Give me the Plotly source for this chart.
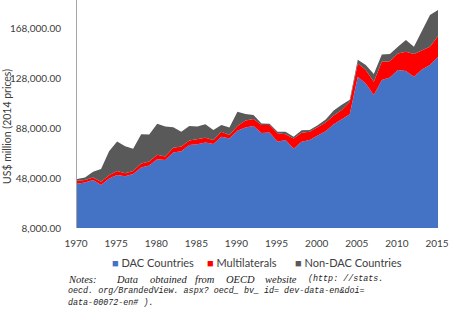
import plotly.graph_objects as go

years = list(range(1970, 2016))

dac = [43.5, 44.5, 46.5, 42.4, 47.7, 50.5, 49.4, 51.2, 56.5, 58.0,
       63.0, 62.4, 68.5, 69.5, 74.4, 75.0, 76.5, 75.2, 81.1, 79.7,
       85.9, 88.5, 89.6, 84.0, 84.5, 77.0, 78.4, 71.5, 77.1, 78.4,
       82.0, 85.5, 91.0, 95.0, 99.0, 129.0, 123.7, 114.4, 126.4, 128.5,
       134.4, 133.6, 129.1, 134.9, 138.4, 145.1]
multilaterals = [2.4, 1.9, 2.0, 2.7, 2.5, 3.2, 2.4, 2.5, 3.2, 3.3,
                 3.7, 2.9, 3.8, 3.7, 3.7, 4.3, 3.8, 3.2, 4.0, 2.7,
                 3.7, 5.5, 5.7, 6.4, 6.0, 6.8, 4.6, 8.2, 7.2, 6.7,
                 6.5, 7.0, 7.0, 7.5, 10.0, 10.7, 10.7, 10.7, 14.7, 13.0,
                 13.3, 15.5, 18.1, 15.5, 14.7, 16.5]
non_dac = [1.3, 2.1, 4.5, 10.1, 19.3, 23.6, 21.6, 17.8, 23.3, 21.5,
           24.7, 24.0, 16.4, 11.9, 11.5, 10.0, 10.7, 8.0, 5.3, 6.1,
           11.5, 5.2, 3.1, 1.3, 1.0, 1.3, 2.1, 1.3, 1.9, 1.3,
           1.8, 2.3, 4.0, 4.2, 1.6, 3.0, 4.0, 6.1, 5.8, 5.7,
           5.4, 9.3, 5.9, 16.0, 25.3, 20.8]

series_names = ["DAC Countries", "Multilaterals", "Non-DAC Countries"]
series_vals = [dac, multilaterals, non_dac]
series_colors = ["#4472C4", "#FF0000", "#595959"]

y_ticks = [8000, 48000, 88000, 128000, 168000]
x_ticks = list(range(1970, 2016, 5))

W, H = 449, 317
L, R, T, B = 77, 11, 0, 89
PW, PH = W - L - R, H - T - B


def px(x):
    return (x - L) / PW


def py(y):
    return (PH + T - y) / PH


fig = go.Figure()
for name, vals, col in zip(series_names, series_vals, series_colors):
    fig.add_trace(go.Scatter(
        x=years, y=[v * 1000 for v in vals], name=name,
        stackgroup="one", mode="lines", line=dict(width=0, color=col),
        fillcolor=col, showlegend=False,
    ))

anns = []
# y-axis title
anns.append(dict(text="US$ million (2014 prices)", x=px(7), y=py(127), xref="paper", yref="paper",
                 xanchor="center", yanchor="middle", textangle=-90, showarrow=False,
                 font=dict(family="Lato", size=10.5, color="#404040")))
# legend (drawn as text with coloured squares)
legend_x = [110, 205, 293]
for name, col, x in zip(series_names, series_colors, legend_x):
    anns.append(dict(text=f"<span style='color:{col}'>■</span> {name}", x=px(x), y=py(262),
                     xref="paper", yref="paper", xanchor="left", yanchor="middle",
                     showarrow=False, font=dict(family="Lato", size=11, color="#404040")))

serif = "Liberation Serif"
mono = "Liberation Mono"
ink = "#222222"
words1 = [("Notes:", 66, serif), ("Data", 114, serif), ("obtained", 148, serif),
          ("from", 193, serif), ("OECD", 224, serif), ("website", 263, serif),
          ("(http: //stats.", 306, mono)]
for txt, x, fam in words1:
    anns.append(dict(text="<i>" + txt + "</i>", x=px(x), y=py(279), xref="paper", yref="paper",
                     xanchor="left", yanchor="middle", showarrow=False,
                     font=dict(family=fam, size=10.5 if fam == serif else 8.4, color=ink)))
anns.append(dict(text="<i>oecd. org/BrandedView. aspx? oecd_ bv_ id= dev-data-en&amp;doi=</i>",
                 x=px(66), y=py(291), xref="paper", yref="paper", xanchor="left", yanchor="middle",
                 showarrow=False, font=dict(family=mono, size=8.4, color=ink)))
anns.append(dict(text="<i>data-00072-en# ).</i>",
                 x=px(66), y=py(303), xref="paper", yref="paper", xanchor="left", yanchor="middle",
                 showarrow=False, font=dict(family=mono, size=8.4, color=ink)))

fig.update_layout(
    width=W, height=H,
    margin=dict(l=L, r=R, t=T, b=B, pad=0, autoexpand=False),
    paper_bgcolor="white", plot_bgcolor="white",
    font=dict(family="Lato", size=10, color="#404040"),
    showlegend=False,
    xaxis=dict(range=[1970, 2015], tickvals=x_ticks, showgrid=False, zeroline=False,
               showline=False, ticks="", ticklabelstandoff=8, automargin=False,
               ticklabeloverflow="allow", ticklabelshift=-1,
               tickfont=dict(size=10, color="#404040")),
    yaxis=dict(range=[8000, 190400], tickvals=y_ticks, tickformat=",.2f", showgrid=False,
               zeroline=False, showline=True, linecolor="#A6A6A6", linewidth=1, ticks="",
               ticklabelstandoff=13, automargin=False,
               tickfont=dict(size=10, color="#404040")),
    annotations=anns,
)

fig.write_html("out.html")
